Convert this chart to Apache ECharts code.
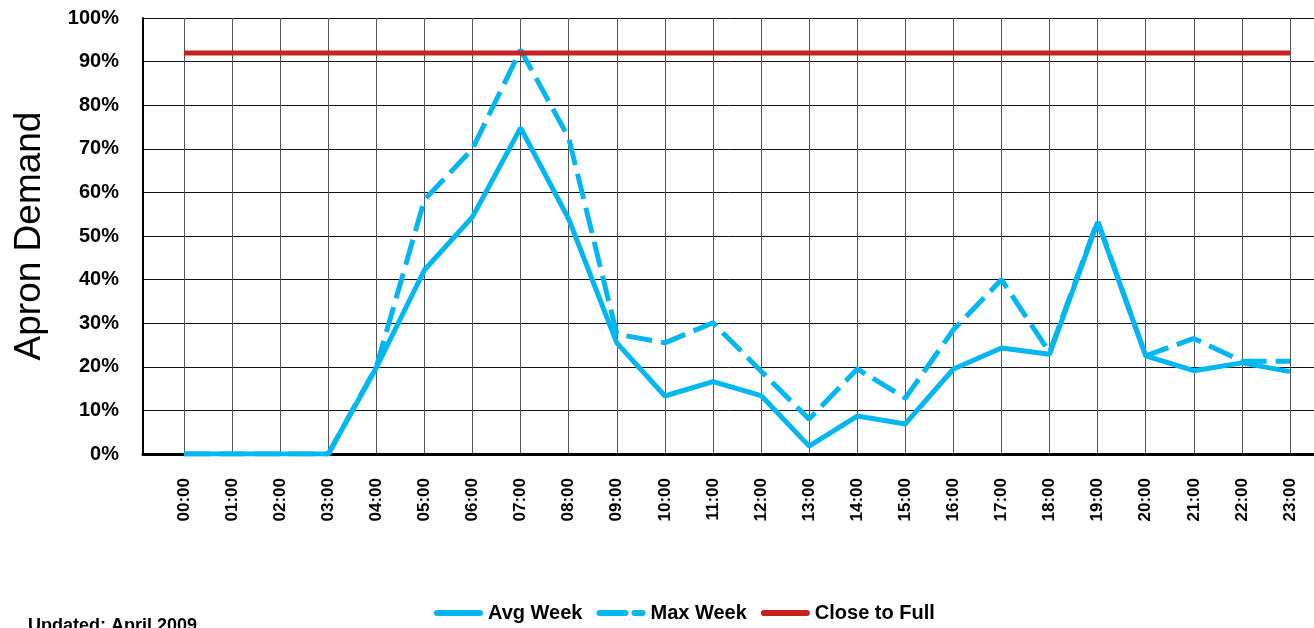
<!DOCTYPE html>
<html>
<head>
<meta charset="utf-8">
<script src="https://cdn.jsdelivr.net/npm/echarts@6/dist/echarts.min.js"></script>
<style>
html,body{margin:0;padding:0;background:#fff;}
#chart{width:1314px;height:628px;}
</style>
</head>
<body>
<div id="chart"></div>
<script>
const hours = ['00:00','01:00','02:00','03:00','04:00','05:00','06:00','07:00','08:00','09:00','10:00','11:00',
  '12:00','13:00','14:00','15:00','16:00','17:00','18:00','19:00','20:00','21:00','22:00','23:00'];
const avgWeek = [0,0,0,0,0.198,0.422,0.544,0.748,0.539,0.255,0.133,0.166,0.134,0.018,0.087,0.069,0.195,0.243,0.229,0.532,0.225,0.191,0.209,0.189];
const maxWeek = [0,0,0,0,0.2,0.583,0.70,0.927,0.725,0.275,0.255,0.301,0.19,0.08,0.195,0.128,0.285,0.40,0.233,0.535,0.225,0.265,0.213,0.213];
const closeToFull = [0.92,0.92,0.92,0.92,0.92,0.92,0.92,0.92,0.92,0.92,0.92,0.92,0.92,0.92,0.92,0.92,0.92,0.92,0.92,0.92,0.92,0.92,0.92,0.92];
const yTicks = {min:0, max:1, interval:0.1};

const FONT = '"Liberation Sans", Arial, sans-serif';
const BLUE = '#00B7F1';
const RED = '#C8201E';

const chart = echarts.init(document.getElementById('chart'), null, {renderer:'canvas'});
chart.setOption({
  animation:false,
  backgroundColor:'#fff',
  textStyle:{fontFamily:FONT},
  grid:[
    {left:143, right:0, top:18, bottom:174, containLabel:false, outerBoundsMode:'none'},
    {left:184, right:24, top:18, bottom:174, containLabel:false, outerBoundsMode:'none'}
  ],
  xAxis:[
    {gridIndex:0, type:'value', min:0, max:1, axisLine:{show:true, lineStyle:{color:'#000', width:3}},
     axisTick:{show:false}, axisLabel:{show:false}, splitLine:{show:false}},
    {gridIndex:1, type:'category', data:hours, boundaryGap:false,
     axisLine:{show:false}, axisTick:{show:false},
     axisLabel:{rotate:90, fontSize:17, fontWeight:'bold', color:'#000', fontFamily:FONT, margin:24, interval:0},
     splitLine:{show:true, interval:0, lineStyle:{color:'#555', width:1}}}
  ],
  yAxis:[
    {gridIndex:0, type:'value', min:yTicks.min, max:yTicks.max, interval:yTicks.interval,
     name:'Apron Demand', nameLocation:'middle', nameGap:95, nameMoveOverlap:false,
     nameTextStyle:{fontSize:37, color:'#000', fontFamily:FONT},
     axisLine:{show:true, lineStyle:{color:'#000', width:2}}, axisTick:{show:false},
     axisLabel:{fontSize:20, fontWeight:'bold', color:'#000', fontFamily:FONT, margin:24,
       formatter:v=>Math.round(v*100)+'%'},
     splitLine:{show:true, lineStyle:{color:'#111', width:1}}},
    {gridIndex:1, type:'value', min:yTicks.min, max:yTicks.max, show:false, splitLine:{show:false}}
  ],
  legend:{
    left:434, top:603, padding:0, itemWidth:43, itemHeight:16, itemGap:14,
    itemStyle:{opacity:0},
    lineStyle:{width:6, cap:'round'},
    textStyle:{fontSize:20, fontWeight:'bold', color:'#000', fontFamily:FONT, padding:[0,0,0,3]},
    data:['Avg Week','Max Week','Close to Full']
  },
  graphic:[
    {type:'text', left:28, top:617, style:{text:'Updated: April 2009', font:'bold 18px "Liberation Sans", Arial, sans-serif', fill:'#000'}}
  ],
  series:[
    {name:'Avg Week', type:'line', xAxisIndex:1, yAxisIndex:1, data:avgWeek, symbol:'none',
     lineStyle:{color:BLUE, width:5}, itemStyle:{color:BLUE}, z:3},
    {name:'Max Week', type:'line', xAxisIndex:1, yAxisIndex:1, data:maxWeek, symbol:'none',
     lineStyle:{color:BLUE, width:5, type:[26,9]}, itemStyle:{color:BLUE}, z:2},
    {name:'Close to Full', type:'line', xAxisIndex:1, yAxisIndex:1, data:closeToFull, symbol:'none',
     lineStyle:{color:RED, width:5}, itemStyle:{color:RED}, z:4}
  ]
});
</script>
</body>
</html>
